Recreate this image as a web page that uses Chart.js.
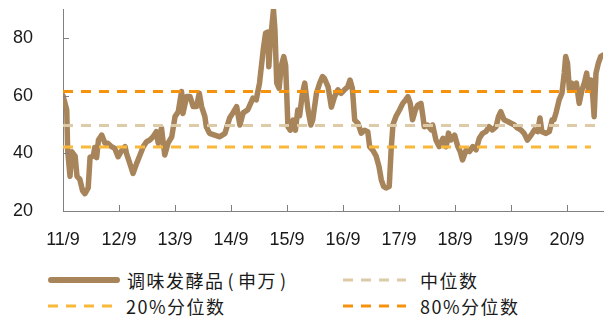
<!DOCTYPE html>
<html>
<head>
<meta charset="utf-8">
<script src="https://cdn.jsdelivr.net/npm/chart.js@4.4.1/dist/chart.umd.min.js"></script>
<style>
  html, body { margin: 0; padding: 0; background: #fff; }
  #wrap { position: relative; width: 611px; height: 320px; overflow: hidden; }
  #box { position: absolute; left: 0; top: 0; width: 611px; height: 255px; }
  .lg { position: absolute; display: flex; align-items: center; height: 24px;
        font-family: "Noto Sans CJK SC", "Noto Sans", sans-serif; font-size: 18px;
        letter-spacing: 1.5px; color: #1a1a1a; white-space: nowrap; }
  .lg svg { display: block; }
  .paren { margin: 0 3px; }
</style>
</head>
<body>
<div id="wrap">
  <div id="box"><canvas id="myChart"></canvas></div>
</div>
<script>
// months since 2011/9
const months = [0,0.4,0.8,1.0,1.5,1.9,2.6,3.0,3.6,4.2,4.7,5.4,5.8,6.5,6.8,7.2,7.6,8.3,9.0,9.6,
  10.4,11.1,11.8,12.6,13.3,13.6,14.3,15.0,15.8,16.5,17.2,17.9,18.6,19.3,20.0,20.4,21.1,21.8,22.5,23.3,
  24.0,24.7,25.4,25.7,26.5,27.2,27.9,28.6,29.2,29.7,30.4,30.7,31.4,32.5,33.6,34.7,35.7,36.4,37.2,37.9,
  38.6,39.6,40.7,41.4,42.1,42.9,43.4,43.9,44.1,44.4,45.1,45.4,45.8,46.3,46.8,47.3,47.7,48.2,48.7,49.3,
  49.8,50.3,50.7,51.3,51.8,52.5,53.1,53.5,54.3,55.0,55.6,56.0,56.8,57.5,58.2,58.9,59.6,60.3,61.0,61.5,
  62.0,62.5,63.2,63.9,64.6,65.3,65.7,66.4,67.1,67.7,68.2,68.7,69.2,69.9,70.3,70.7,71.4,72.1,72.8,73.4,
  73.9,74.4,74.9,75.5,76.0,76.7,77.1,77.4,78.1,78.9,79.2,79.9,80.6,81.4,82.1,82.6,83.1,83.9,84.6,85.1,
  85.6,86.4,87.1,87.8,88.5,89.2,89.9,90.6,91.3,92.0,92.8,93.3,93.8,94.5,95.3,96.0,96.7,97.4,98.1,98.8,
  99.5,100.3,101.0,101.7,102.2,102.6,103.5,104.2,104.8,105.2,105.7,106.3,106.9,107.4,107.7,108.1,108.5,109.0,109.5,110.0,
  110.6,111.2,111.7,112.2,112.6,113.1,113.5,113.8,114.2,114.7,115.2,115.7];

// 调味发酵品(申万)
const values = [60,57.5,55,41,32,40.5,39,32,31,27,26,28,38.7,39,42,38.5,44.6,46.3,43.5,43.5,
  42.3,41.7,38.8,41,42.3,40,36.6,33,36.6,39.4,42.3,44,44.6,45.7,47.5,43.5,48.7,39.4,43.5,45.7,
  52.7,54.4,61.4,53.8,59.7,59.7,56.2,56.2,60.8,56.2,52.7,49.2,46.9,46.3,45.7,46.9,52.2,54,56.2,49.8,
  54,55.1,59.1,58.5,64.3,75.8,81.6,82,70,78.4,89.7,83,64.3,62.5,70.5,73.5,70.5,49.2,48,51.5,
  48,55,53,60.8,64.3,55,49.8,51.5,60.8,64.3,66.6,66,63,56,59.7,62,60.8,62,63,65.4,
  62.5,51.5,50.4,47,48,47.5,42.3,41,39,35.4,30.8,28.5,28,28.5,41,50,53,55,57.3,58.5,
  59.6,57.3,51.6,55,56.7,57.3,53,49.2,49.8,48.1,49.8,44.6,42.3,45.2,42.3,47,44.6,46.3,42.3,40.6,
  37.7,41.2,40.6,42.3,41.2,45.2,46.9,47.5,49.2,48.1,49.2,52.7,54.4,51.6,51,50.4,49.8,48.7,48.1,46.9,
  44.6,46.3,48.1,47.5,52.2,47.5,46.9,47.5,51.6,51.6,54.4,58.5,60.8,67.8,73.5,71.2,62,64.3,62,64.3,
  57.3,62,64.3,67.8,62,65.4,60,52.7,67.8,71.2,73.5,74];

const medianValue = 49.6;
const p20Value = 42.2;
const p80Value = 61.4;

const tickLabels = ['11/9','12/9','13/9','14/9','15/9','16/9','17/9','18/9','19/9','20/9'];
const yTicks = [20, 40, 60, 80];

const seriesNames = ['调味发酵品(申万)', '中位数', '20%分位数', '80%分位数'];
const colors = ['#A8845A', '#DCCBA6', '#F9B83A', '#F7920C'];

const xMax = 115.7;
const refEnd = 113.1;

const lineData = months.map((m, i) => ({ x: m, y: values[i] }));
const flat = (v, end) => [{ x: 0, y: v }, { x: end, y: v }];

// inner tick marks on both axes
const innerTicks = {
  id: 'innerTicks',
  afterDraw(chart) {
    const ctx = chart.ctx;
    const xs = chart.scales.x, ys = chart.scales.y;
    const area = chart.chartArea;
    ctx.save();
    ctx.strokeStyle = '#808080';
    ctx.lineWidth = 1;
    ctx.beginPath();
    yTicks.forEach(v => {
      const y = Math.round(ys.getPixelForValue(v)) + 0.5;
      ctx.moveTo(area.left, y);
      ctx.lineTo(area.left + 6, y);
    });
    tickLabels.forEach((l, i) => {
      const x = Math.round(xs.getPixelForValue(i * 12)) + 0.5;
      ctx.moveTo(x, area.bottom);
      ctx.lineTo(x, area.bottom - 6);
    });
    ctx.stroke();
    ctx.restore();
  }
};

const tickFont = { family: '"Liberation Sans", Arial, sans-serif', size: 18 };

const chart = new Chart(document.getElementById('myChart'), {
  type: 'line',
  data: {
    datasets: [
      { label: seriesNames[0], data: lineData, borderColor: colors[0], borderWidth: 5.5,
        pointRadius: 0, tension: 0, borderJoinStyle: 'round', borderCapStyle: 'round', order: 4 },
      { label: seriesNames[1], data: flat(medianValue, xMax), borderColor: colors[1], borderWidth: 3,
        borderDash: [10, 8], pointRadius: 0, order: 3 },
      { label: seriesNames[2], data: flat(p20Value, refEnd), borderColor: colors[2], borderWidth: 3,
        borderDash: [10, 8], pointRadius: 0, order: 2 },
      { label: seriesNames[3], data: flat(p80Value, refEnd), borderColor: colors[3], borderWidth: 3,
        borderDash: [10, 8], pointRadius: 0, order: 1 }
    ]
  },
  options: {
    responsive: true,
    maintainAspectRatio: false,
    animation: false,
    devicePixelRatio: 1,
    layout: { padding: { top: 9, right: 8, left: 0, bottom: 0 } },
    plugins: { legend: { display: false }, tooltip: { enabled: false } },
    scales: {
      x: {
        type: 'linear',
        min: 0,
        max: xMax,
        grid: { display: false },
        border: { display: true, color: '#808080', width: 1 },
        afterBuildTicks: (axis) => { axis.ticks = tickLabels.map((l, i) => ({ value: i * 12 })); },
        afterFit: (axis) => { axis.height = 44; axis.paddingLeft = 0; axis.paddingRight = 0; },
        ticks: {
          font: tickFont, color: '#1a1a1a', padding: 10, maxRotation: 0, autoSkip: false,
          callback: (v, i) => tickLabels[i]
        }
      },
      y: {
        min: 20,
        max: 90,
        grid: { display: false },
        border: { display: true, color: '#808080', width: 1 },
        afterBuildTicks: (axis) => { axis.ticks = yTicks.map(v => ({ value: v })); },
        afterFit: (axis) => { axis.width = 63; axis.paddingTop = 0; axis.paddingBottom = 0; },
        ticks: { font: tickFont, color: '#1a1a1a', padding: 22 }
      }
    }
  },
  plugins: [innerTicks]
});

// legend (two columns, two rows)
const legendPos = [
  { left: 48, top: 268, w: 72, dash: false },
  { left: 343, top: 268, w: 63, dash: true },
  { left: 48, top: 294, w: 64, dash: true },
  { left: 343, top: 294, w: 63, dash: true }
];
const wrap = document.getElementById('wrap');
legendPos.forEach((p, i) => {
  const d = document.createElement('div');
  d.className = 'lg';
  d.style.left = p.left + 'px';
  d.style.top = p.top + 'px';
  const sw = p.dash
    ? `<svg width="${p.w}" height="8"><line x1="0" y1="4" x2="${p.w}" y2="4" stroke="${colors[i]}" stroke-width="3" stroke-dasharray="10 8"/></svg>`
    : `<svg width="${p.w}" height="8"><line x1="3" y1="4" x2="${p.w - 3}" y2="4" stroke="${colors[i]}" stroke-width="6" stroke-linecap="round"/></svg>`;
  const gap = i === 0 ? 7 : 14;
  const text = seriesNames[i].replace(/([()])/g, '<span class="paren">$1</span>');
  d.innerHTML = sw + `<span style="margin-left:${gap}px">${text}</span>`;
  wrap.appendChild(d);
});
</script>
</body>
</html>
